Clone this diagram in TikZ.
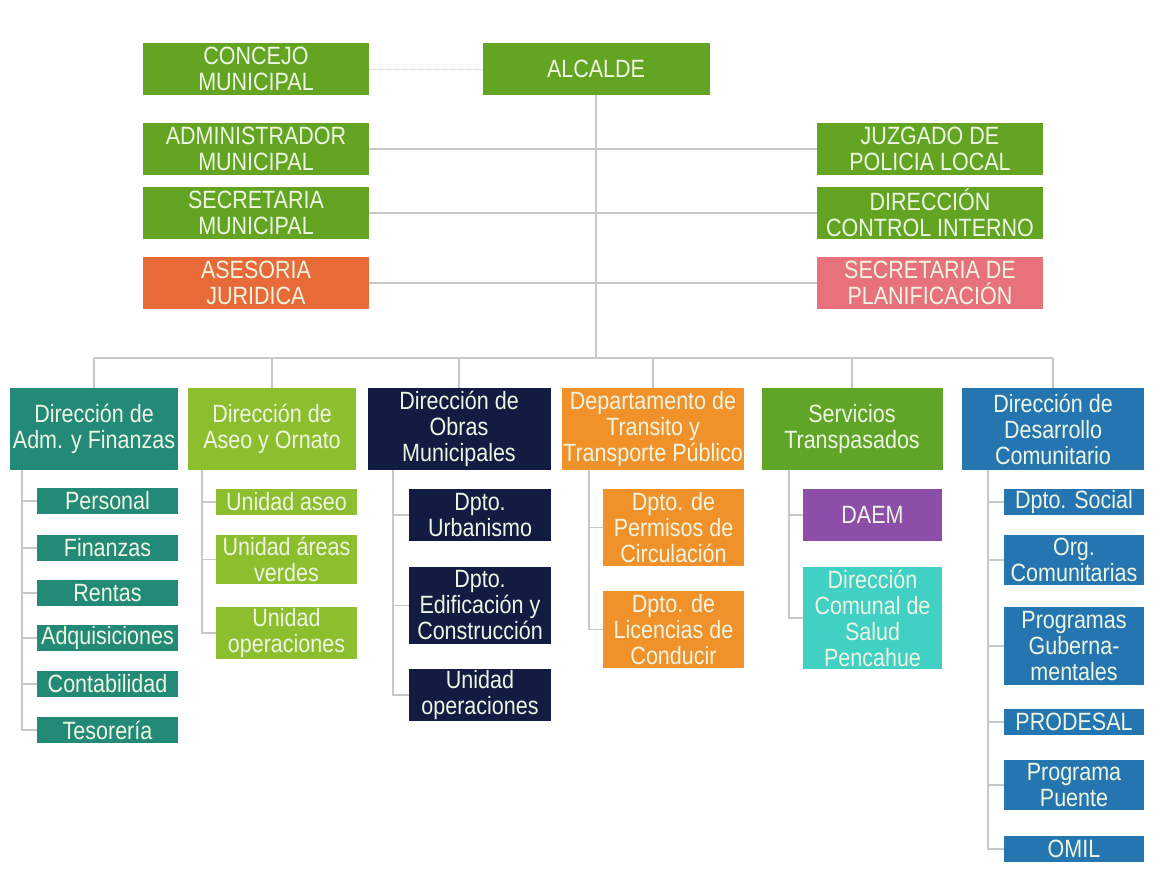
\documentclass[tikz,border=0pt]{standalone}
\usepackage{fontspec}
\setmainfont{Liberation Sans}[FakeStretch=0.86]
\usetikzlibrary{positioning}
\definecolor{topgreen}{RGB}{99,165,35}
\definecolor{asesor}{RGB}{232,106,56}
\definecolor{planif}{RGB}{232,114,124}
\definecolor{teal}{RGB}{36,138,120}
\definecolor{aseo}{RGB}{141,190,46}
\definecolor{obras}{RGB}{18,28,66}
\definecolor{transito}{RGB}{240,145,42}
\definecolor{servic}{RGB}{95,165,40}
\definecolor{desarr}{RGB}{37,118,176}
\definecolor{daem}{RGB}{140,78,168}
\definecolor{salud}{RGB}{64,208,196}
\definecolor{txt}{RGB}{238,245,226}
\definecolor{linegray}{RGB}{200,200,200}
\tikzset{
  bx/.style={fill=#1, inner sep=0pt, align=center, text=txt,
    font=\fontsize{25}{26}\selectfont},
  wh/.style 2 args={minimum width=#1, minimum height=#2},
  line/.style={draw=linegray, line width=1.2pt},
  dotline/.style={draw=linegray, line width=1pt, dash pattern=on 1pt off 1pt},
}

\begin{document}
\begin{tikzpicture}[x=1pt,y=-1pt]
\useasboundingbox (0,0) rectangle (1161,884);
\node[bx=topgreen,wh={226}{52}] (conc) at (256,69) {CONCEJO\\MUNICIPAL};
\node[bx=topgreen,wh={227}{52}] (alc) at (596,69) {ALCALDE};
\node[bx=topgreen,wh={226}{52}] (adm) at (256,149) {ADMINISTRADOR\\MUNICIPAL};
\node[bx=topgreen,wh={226}{52}] (sec) at (256,213) {SECRETARIA\\MUNICIPAL};
\node[bx=asesor,wh={226}{52}] (ases) at (256,283) {ASESORIA\\JURIDICA};
\node[bx=topgreen,wh={226}{52}] (juz) at (930,149) {JUZGADO DE\\POLICIA LOCAL};
\node[bx=topgreen,wh={226}{52}] (dci) at (930,213) {DIRECCIÓN\\CONTROL INTERNO};
\node[bx=planif,wh={226}{52}] (plan) at (930,283) {SECRETARIA DE\\PLANIFICACIÓN};
\node[bx=teal,wh={168}{82}] (daf) at (94,429) {Dirección de\\Adm. y Finanzas};
\node[bx=aseo,wh={168}{82}] (dao) at (272,429) {Dirección de\\Aseo y Ornato};
\node[bx=obras,wh={183}{82}] (dom) at (459,429) {Dirección de\\Obras\\Municipales};
\node[bx=transito,wh={182}{82}] (dtt) at (653,429) {Departamento de\\Transito y\\Transporte Público};
\node[bx=servic,wh={181}{82}] (stp) at (852,429) {Servicios\\Transpasados};
\node[bx=desarr,wh={182}{82}] (ddc) at (1053,429) {Dirección de\\Desarrollo\\Comunitario};
\node[bx=teal,wh={141}{26}] (per) at (107.5,501) {Personal};
\node[bx=teal,wh={141}{26}] (fin) at (107.5,548) {Finanzas};
\node[bx=teal,wh={141}{26}] (ren) at (107.5,593) {Rentas};
\node[bx=teal,wh={141}{26}] (adq) at (107.5,638) {Adquisiciones};
\node[bx=teal,wh={141}{26}] (con) at (107.5,684) {Contabilidad};
\node[bx=teal,wh={141}{26}] (tes) at (107.5,730) {Tesorería};
\node[bx=aseo,wh={141}{26}] (uas) at (286.5,502) {Unidad aseo};
\node[bx=aseo,wh={141}{49}] (uav) at (286.5,559.5) {Unidad áreas\\verdes};
\node[bx=aseo,wh={141}{52}] (uop) at (286.5,633) {Unidad\\operaciones};
\node[bx=obras,wh={142}{52}] (urb) at (480,515) {Dpto.\\Urbanismo};
\node[bx=obras,wh={142}{77}] (edi) at (480,605.5) {Dpto.\\Edificación y\\Construcción};
\node[bx=obras,wh={142}{52}] (uop2) at (480,695) {Unidad\\operaciones};
\node[bx=transito,wh={141}{77}] (pcir) at (673.5,527.5) {Dpto. de\\Permisos de\\Circulación};
\node[bx=transito,wh={141}{77}] (lic) at (673.5,629.5) {Dpto. de\\Licencias de\\Conducir};
\node[bx=daem,wh={139}{52}] (daem) at (872.5,515) {DAEM};
\node[bx=salud,wh={139}{102}] (sal) at (872.5,618) {Dirección\\Comunal de\\Salud\\Pencahue};
\node[bx=desarr,wh={140}{26}] (soc) at (1074,502) {Dpto. Social};
\node[bx=desarr,wh={140}{50}] (org) at (1074,560) {Org.\\Comunitarias};
\node[bx=desarr,wh={140}{78}] (prog) at (1074,646) {Programas\\Guberna-\\mentales};
\node[bx=desarr,wh={140}{26}] (prod) at (1074,722) {PRODESAL};
\node[bx=desarr,wh={140}{50}] (pte) at (1074,785) {Programa\\Puente};
\node[bx=desarr,wh={140}{26}] (omil) at (1074,849) {OMIL};

\draw[dotline] (conc) -- (alc);
\foreach \a/\b in {adm/juz,sec/dci,ases/plan}
  \draw[line] (\a) -- (\b);
\coordinate (bus) at (596,358);
\draw[line] (alc) -- (bus);
\draw[line] (daf.north |- bus) -- (ddc.north |- bus);
\foreach \d in {daf,dao,dom,dtt,stp,ddc}
  \draw[line] (\d) -- (\d.north |- bus);

\coordinate (daf-t) at (22,470);
\coordinate (dao-t) at (202,470);
\coordinate (dom-t) at (393,470);
\coordinate (dtt-t) at (589,470);
\coordinate (stp-t) at (789,470);
\coordinate (ddc-t) at (988,470);
\foreach \p/\c in {daf/per,daf/fin,daf/ren,daf/adq,daf/con,daf/tes,
    dao/uas,dao/uav,dao/uop,dom/urb,dom/edi,dom/uop2,dtt/pcir,dtt/lic,
    stp/daem,stp/sal,ddc/soc,ddc/org,ddc/prog,ddc/prod,ddc/pte,ddc/omil}
  \draw[line] (\p-t) |- (\c);
\end{tikzpicture}
\end{document}
